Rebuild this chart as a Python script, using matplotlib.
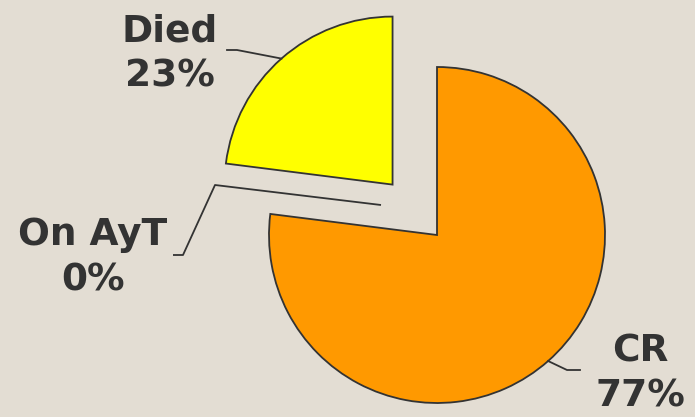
import numpy as np
import matplotlib
matplotlib.use("Agg")
import matplotlib.pyplot as plt

# ---- data ----
categories = ["CR", "On AyT", "Died"]
values = [77, 0, 23]
colors = ["#FF9900", "#FFCC00", "#FFFF00"]
explode = [0.0, 0.4, 0.4]

W, H = 695, 417
fig = plt.figure(figsize=(W / 100, H / 100), dpi=100)
fig.patch.set_facecolor("#E3DDD3")
ax = fig.add_axes([0, 0, 1, 1])

cx, cy, R = 437, H - 235, 168
wedges, _ = ax.pie(values, colors=colors, explode=[e * R for e in explode],
                   startangle=90, counterclock=False, radius=R, center=(cx, cy),
                   frame=True,
                   wedgeprops=dict(edgecolor="#333333", linewidth=1.3))
wedges[1].set_visible(False)
ax.set_xlim(0, W)
ax.set_ylim(0, H)
ax.set_aspect("equal")
ax.axis("off")

txtc = "#333333"
lc = "#333333"
fs = 27

def leader(pts):
    xs = [p[0] for p in pts]
    ys = [H - p[1] for p in pts]
    ax.plot(xs, ys, color=lc, lw=1.3, solid_capstyle="butt")

def arc_point(w):
    ang = np.deg2rad((w.theta1 + w.theta2) / 2)
    x0, y0 = w.center
    return x0 + w.r * np.cos(ang), y0 + w.r * np.sin(ang)

# Died
ax_, ay_ = arc_point(wedges[2])
ax.plot([ax_, 237, 227], [ay_, H - 50, H - 50], color=lc, lw=1.3)
# CR
bx_, by_ = arc_point(wedges[0])
ax.plot([bx_, 567, 580], [by_, H - 370, H - 370], color=lc, lw=1.3)
# On AyT
leader([(381, 205), (215, 185), (183, 255), (173, 255)])

labels_pos = {"Died": (170, 54), "On AyT": (93, 258), "CR": (640, 374)}
for name, v in zip(categories, values):
    x, y = labels_pos[name]
    ax.text(x, H - y, f"{name}\n{v}%", ha="center", va="center",
            fontsize=fs, fontweight="bold", color=txtc, linespacing=1.35,
            family="DejaVu Sans")

fig.savefig("out.png", dpi=100, facecolor=fig.get_facecolor())
